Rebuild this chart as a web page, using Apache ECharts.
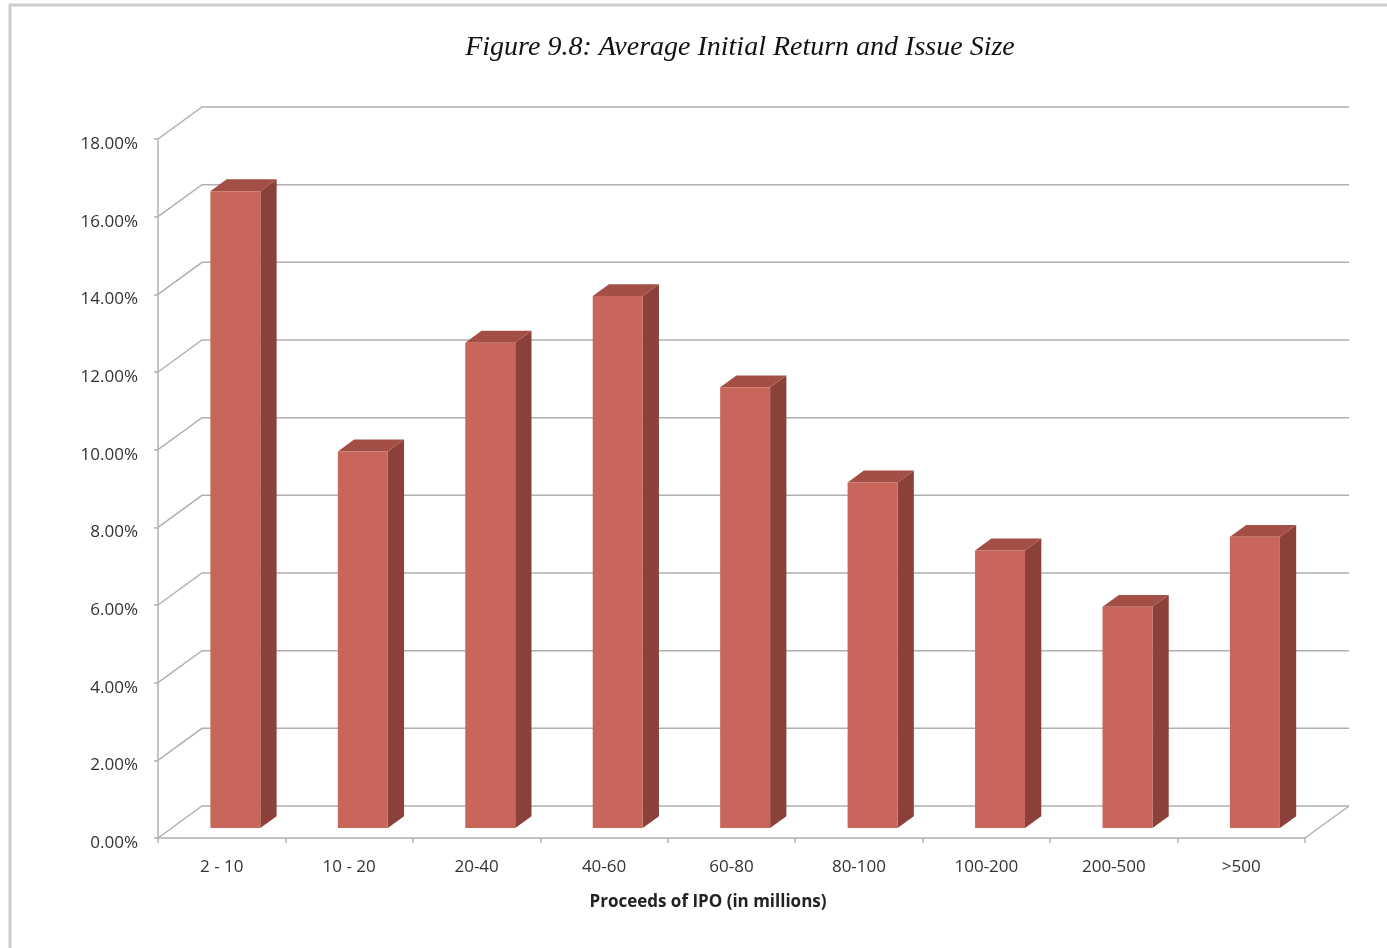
<!DOCTYPE html>
<html>
<head>
<meta charset="utf-8">
<title>Figure 9.8</title>
<script src="https://cdn.jsdelivr.net/npm/echarts@6/dist/echarts.min.js"></script>
<style>
    html, body { margin: 0; padding: 0; background: #fff; }
    #chart { width: 1387px; height: 948px; }
</style>
</head>
<body>
<div id="chart"></div>
<script>
// data
const categories = ['2 - 10', '10 - 20', '20-40', '40-60', '60-80', '80-100', '100-200', '200-500', '>500']
const avgReturn  = [16.4, 9.7, 12.5, 13.7, 11.35, 8.9, 7.15, 5.7, 7.5]
const yTicks     = [0, 2, 4, 6, 8, 10, 12, 14, 16, 18]

// 3d look: how far the back wall sits from the front plane (px)
const DX = 44
const DY = -32
const BAR_DEPTH = 0.37  // share of the room depth a bar takes
const BAR_FRONT = 0.31  // where the bar front face sits in the room

const gridColor = '#b0b0b0'
const labelFont = '"Open Sans", "Noto Sans", sans-serif'

let chart = echarts.init(document.getElementById('chart'))

/**
 * back wall + floor lines
 */
const renderWalls = (params, api) => {
    let cs = params.coordSys
    let v = api.value(1)
    let y = api.coord([0, v])[1]
    let x0 = cs.x
    let x1 = cs.x + cs.width
    let children = [{
        type: 'polyline',
        shape: { points: [[x0, y], [x0 + DX, y + DY], [x1 + DX, y + DY]] },
        style: { stroke: gridColor, lineWidth: 1.5, fill: null }
    }]
    if (v === 0) {
        // right edge of the floor
        children.push({
            type: 'line',
            shape: { x1: x1, y1: y, x2: x1 + DX, y2: y + DY },
            style: { stroke: gridColor, lineWidth: 1.5 }
        })
    }
    return { type: 'group', children: children }
}

/**
 * one 3d bar: front, side, top
 */
const renderBar = (params, api) => {
    let i = api.value(0)
    let base = api.coord([i, 0])
    let head = api.coord([i, api.value(1)])
    let band = api.size([1, 0])[0]
    let w = band * 0.392
    let fx = DX * BAR_FRONT, fy = DY * BAR_FRONT
    let bx = DX * BAR_DEPTH, by = DY * BAR_DEPTH
    let left = base[0] + fx - w / 2
    let right = left + w
    let bottom = base[1] + fy
    let top = head[1] + fy
    return {
        type: 'group',
        children: [
            {
                type: 'polygon',
                shape: { points: [[right, bottom], [right + bx, bottom + by], [right + bx, top + by], [right, top]] },
                style: { fill: '#8b4139' }
            },
            {
                type: 'polygon',
                shape: { points: [[left, top], [left + bx, top + by], [right + bx, top + by], [right, top]] },
                style: { fill: '#a44f46' }
            },
            {
                type: 'rect',
                shape: { x: left, y: top, width: w, height: bottom - top },
                style: { fill: '#c9665b' }
            }
        ]
    }
}

let options = {
    animation: false,
    backgroundColor: '#fff',
    grid: { left: 158, right: 82, top: 139, bottom: 110 },
    xAxis: {
        type: 'category',
        data: categories,
        boundaryGap: true,
        axisLine: { lineStyle: { color: gridColor, width: 1.5 } },
        axisTick: { show: true, length: 5, lineStyle: { color: gridColor, width: 1.5 } },
        axisLabel: { color: '#333', fontSize: 17, fontFamily: labelFont, margin: 21 },
        splitLine: { show: false }
    },
    yAxis: {
        type: 'value',
        min: 0,
        max: 18,
        interval: 2,
        axisLine: { show: true, lineStyle: { color: gridColor, width: 1.5 } },
        axisTick: { show: true, length: 4, lineStyle: { color: gridColor, width: 1.5 } },
        axisLabel: {
            color: '#333', fontSize: 17, fontFamily: labelFont, margin: 20,
            verticalAlign: 'top', lineHeight: 10,
            formatter: v => v.toFixed(2) + '%'
        },
        splitLine: { show: false }
    },
    graphic: [
        {
            type: 'rect', silent: true, z: -10,
            shape: { x: 10, y: 5, width: 1500, height: 1100 },
            style: { fill: null, stroke: '#cccccc', lineWidth: 3 }
        },
        {
            type: 'text', x: 740, y: 48,
            style: {
                text: 'Figure 9.8: Average Initial Return and Issue Size',
                font: 'italic 28px "Liberation Serif", "Times New Roman", serif',
                fill: '#111', align: 'center', verticalAlign: 'middle'
            }
        },
        {
            type: 'text', x: 708, y: 902,
            style: {
                text: 'Proceeds of IPO (in millions)',
                font: 'bold 17px ' + labelFont,
                fill: '#222', align: 'center', verticalAlign: 'middle'
            }
        }
    ],
    series: [
        {
            type: 'custom',
            name: 'walls',
            silent: true,
            z: 1,
            renderItem: renderWalls,
            data: yTicks.map(v => [0, v])
        },
        {
            type: 'custom',
            name: 'Average initial return',
            z: 5,
            renderItem: renderBar,
            data: avgReturn.map((v, i) => [i, v])
        }
    ]
}

chart.setOption(options)
</script>
</body>
</html>
